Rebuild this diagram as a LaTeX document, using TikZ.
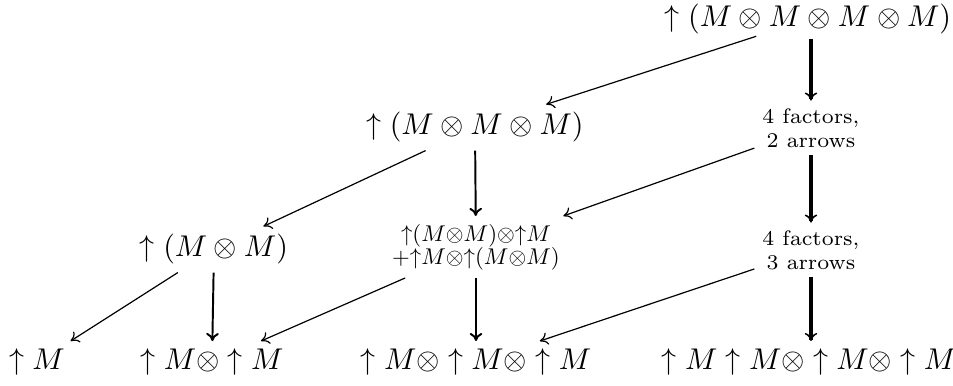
\documentclass[tikz,border=0pt]{standalone}
\usepackage{graphicx}
\usetikzlibrary{arrows.meta}
\font\factfont=cmr7 at 7pt
\newcommand{\twolines}[2]{\scalebox{0.76}{\vbox{\baselineskip=10.1pt\lineskiplimit=-20pt\lineskip=0pt\halign{\hfil##\hfil\cr #1\cr #2\cr}}}}
\tikzset{
  lbl/.style={inner sep=2.5pt},
  toplbl/.style={inner xsep=2.5pt, inner ysep=0pt},
  factnode/.style={inner sep=2.5pt, align=center, font={\factfont\baselineskip=8pt}},
  midnode/.style={inner sep=2.5pt},
  diag/.style={line width=0.4pt, -{To[length=2.7pt,width=4.2pt]}},
  vline/.style={line width=0.65pt, -{To[length=2.7pt,width=4.2pt]}},
  vlinethick/.style={line width=1.1pt, -{To[length=2.7pt,width=4.2pt,line width=0.5pt]}}
}
\begin{document}
\begin{tikzpicture}[x=0.33333pt,y=-0.33333pt]
\useasboundingbox (0,0) rectangle (953,386);
% nodes
\node[toplbl, anchor=base] (t) at (808,27) {$\uparrow(M\otimes M\otimes M\otimes M)$};
\node[lbl, anchor=base] (a3) at (475,135) {$\uparrow(M\otimes M\otimes M)$};
\node[factnode] (f2) at (811,128) {4 factors,\\2 arrows};
\node[lbl, anchor=base] (a2) at (214,257) {$\uparrow(M\otimes M)$};
\node[midnode] (mid) at (476,247) {\twolines{$\mathord{\uparrow}(M\mathord{\otimes}M)\mathord{\otimes}\mathord{\uparrow}M$}{$\mathord{+}\mathord{\uparrow}M\mathord{\otimes}\mathord{\uparrow}(M\mathord{\otimes}M)$}};
\node[factnode] (f3) at (811,250) {4 factors,\\3 arrows};
\node[lbl, anchor=base] (b1) at (37,370) {$\uparrow M$};
\node[lbl, anchor=base] (b2) at (212,370) {$\uparrow M\otimes\uparrow M$};
\node[lbl, anchor=base] (b3) at (476,370) {$\uparrow M\otimes\uparrow M\otimes\uparrow M$};
\node[lbl, anchor=base] (b4) at (809,370) {$\uparrow M\uparrow M\otimes\uparrow M\otimes\uparrow M$};
% diagonal arrows
\draw[diag, shorten <=1.3pt] (t) -- (a3);
\draw[diag] (f2) -- (mid);
\draw[diag] (f3) -- (b3);
\draw[diag] (a3) -- (a2);
\draw[diag] (mid) -- (b2);
\draw[diag] (a2) -- (b1);
% vertical arrows
\draw[vlinethick, shorten <=1.3pt] (f2.north |- t.south) -- (f2.north);
\draw[vlinethick] (f2.south) -- (f3.north);
\draw[vlinethick] (f3.south) -- (f3.south |- b4.north);
\draw[vline] (a3) -- (mid);
\draw[vline] (a2) -- (b2);
\draw[vline] (mid) -- (b3);
\end{tikzpicture}
\end{document}
